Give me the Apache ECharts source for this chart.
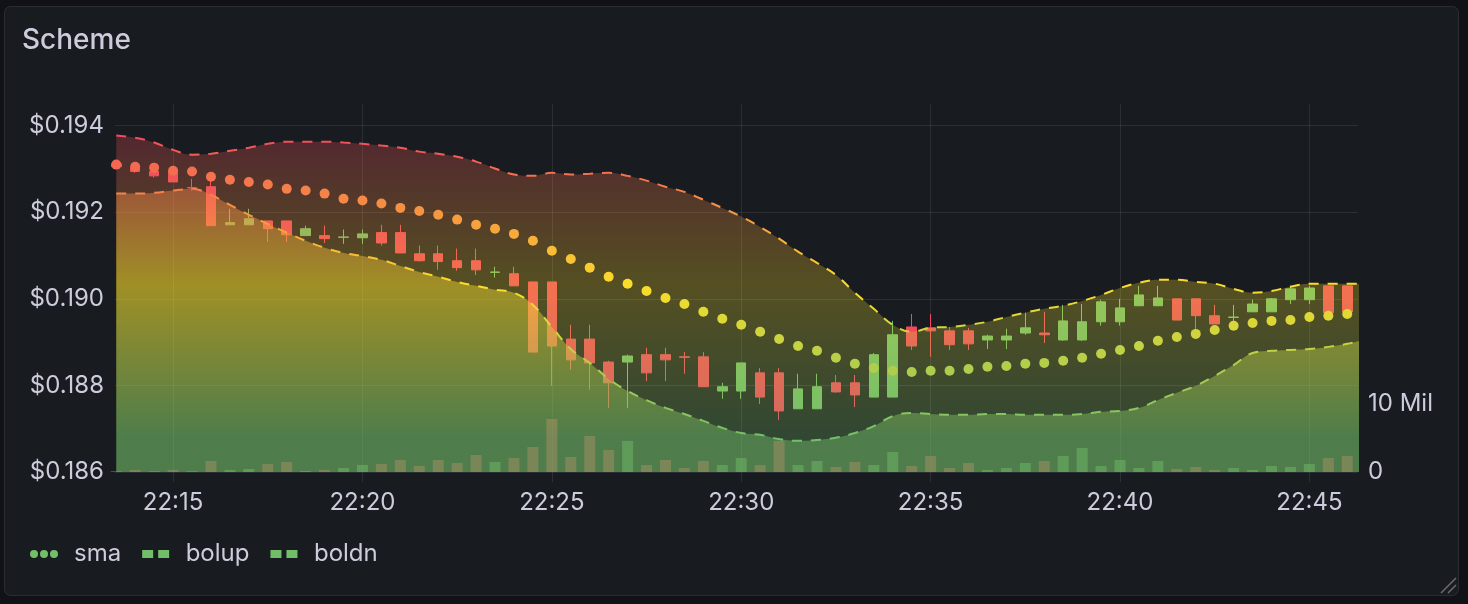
<!DOCTYPE html>
<html><head><meta charset="utf-8">
<script src="https://cdn.jsdelivr.net/npm/echarts@6/dist/echarts.min.js"></script>
<style>html,body{margin:0;padding:0;background:#111217;}#c{width:1468px;height:604px;}</style>
</head><body><div id="c"></div>
<script>
const times = ['22:13:30','22:14:00','22:14:30','22:15:00','22:15:30','22:16:00','22:16:30','22:17:00','22:17:30','22:18:00',
 '22:18:30','22:19:00','22:19:30','22:20:00','22:20:30','22:21:00','22:21:30','22:22:00','22:22:30','22:23:00',
 '22:23:30','22:24:00','22:24:30','22:25:00','22:25:30','22:26:00','22:26:30','22:27:00','22:27:30','22:28:00',
 '22:28:30','22:29:00','22:29:30','22:30:00','22:30:30','22:31:00','22:31:30','22:32:00','22:32:30','22:33:00',
 '22:33:30','22:34:00','22:34:30','22:35:00','22:35:30','22:36:00','22:36:30','22:37:00','22:37:30','22:38:00',
 '22:38:30','22:39:00','22:39:30','22:40:00','22:40:30','22:41:00','22:41:30','22:42:00','22:42:30','22:43:00',
 '22:43:30','22:44:00','22:44:30','22:45:00','22:45:30','22:46:00','22:46:30'];
const xRange = ['22:13:28','22:46:17'];
const xTickLabels = ['22:15','22:20','22:25','22:30','22:35','22:40','22:45'];
const yTicks = [0.186,0.188,0.190,0.192,0.194];
const yRange = [0.186,0.1945];
const volTicks = [0,10];
const volMax = 53.7;

const open = [0.19312,0.19303,0.19294,0.19294,0.19257,0.19259,0.19171,0.19171,0.19180,0.19180,
 0.19146,0.19146,0.19142,0.19141,0.19153,0.19153,0.19104,0.19104,0.19088,0.19088,
 0.19061,0.19058,0.19039,0.19039,0.18907,0.18907,0.18854,0.18854,0.18871,0.18871,
 0.18866,0.18866,0.18787,0.18787,0.18829,0.18829,0.18746,0.18746,0.18806,0.18806,
 0.18773,0.18773,0.18935,0.18933,0.18926,0.18926,0.18905,0.18905,0.18921,0.18921,
 0.18905,0.18905,0.18947,0.18947,0.18984,0.18984,0.19000,0.19000,0.18961,0.18957,
 0.18970,0.18970,0.18998,0.18998,0.19030,0.19030,null];
const close = [0.19305,0.19294,0.19284,0.19270,0.19256,0.19169,0.19176,0.19185,0.19162,0.19148,
 0.19162,0.19139,0.19143,0.19150,0.19129,0.19106,0.19088,0.19086,0.19072,0.19067,
 0.19062,0.19030,0.18877,0.18891,0.18859,0.18852,0.18806,0.18868,0.18829,0.18859,
 0.18865,0.18797,0.18797,0.18852,0.18773,0.18741,0.18792,0.18797,0.18785,0.18778,
 0.18871,0.18917,0.18891,0.18926,0.18894,0.18896,0.18914,0.18914,0.18933,0.18917,
 0.18949,0.18947,0.18993,0.18979,0.19009,0.19002,0.18951,0.18961,0.18942,0.18958,
 0.18988,0.19000,0.19023,0.19025,0.18968,0.18970,null];
const low = [0.19303,0.19291,0.19280,0.19270,0.19250,0.19169,0.19171,0.19171,0.19132,0.19132,
 0.19146,0.19129,0.19127,0.19127,0.19123,0.19106,0.19086,0.19067,0.19065,0.19055,
 0.19049,0.19030,0.18877,0.18799,0.18836,0.18790,0.18748,0.18748,0.18810,0.18810,
 0.18827,0.18797,0.18769,0.18769,0.18757,0.18720,0.18746,0.18746,0.18783,0.18750,
 0.18773,0.18773,0.18882,0.18866,0.18882,0.18882,0.18884,0.18884,0.18917,0.18898,
 0.18903,0.18903,0.18938,0.18938,0.18984,0.18984,0.18951,0.18928,0.18942,0.18947,
 0.18970,0.18970,0.18988,0.18988,0.18968,0.18970,null];
const high = [0.19317,0.19307,0.19303,0.19298,0.19277,0.19273,0.19208,0.19208,0.19180,0.19180,
 0.19169,0.19169,0.19160,0.19160,0.19171,0.19171,0.19123,0.19123,0.19116,0.19116,
 0.19074,0.19074,0.19039,0.19039,0.18940,0.18940,0.18857,0.18871,0.18887,0.18887,
 0.18877,0.18877,0.18806,0.18852,0.18840,0.18840,0.18827,0.18827,0.18824,0.18824,
 0.18875,0.18949,0.18965,0.18965,0.18935,0.18933,0.18917,0.18931,0.18968,0.18970,
 0.18986,0.18988,0.18998,0.19000,0.19030,0.19030,0.19000,0.19000,0.18986,0.18986,
 0.18998,0.19002,0.19030,0.19030,0.19030,0.19030,null];
const volume = [0.15,0.29,0.15,0.29,0.15,1.61,0.29,0.44,1.17,1.46,
 0.15,0.29,0.58,1.02,1.17,1.75,0.88,1.75,1.31,2.48,
 1.46,2.04,3.65,7.74,2.19,5.26,3.21,4.53,1.02,1.75,
 0.58,1.61,1.02,2.04,1.02,4.53,1.02,1.61,0.73,1.46,
 1.02,2.92,0.88,2.34,0.58,1.31,0.29,0.58,1.31,1.61,
 2.34,3.50,0.88,1.75,0.58,1.61,0.44,0.73,0.29,0.58,
 0.29,0.88,0.73,1.17,2.04,2.34,null];
const sma = [0.19310,0.19305,0.19303,0.19296,0.19294,0.19282,0.19275,0.19270,0.19264,0.19254,
 0.19250,0.19243,0.19231,0.19227,0.19220,0.19210,0.19203,0.19194,0.19183,0.19171,
 0.19162,0.19150,0.19134,0.19111,0.19092,0.19072,0.19051,0.19035,0.19018,0.19002,
 0.18988,0.18970,0.18954,0.18940,0.18924,0.18907,0.18891,0.18880,0.18864,0.18850,
 0.18840,0.18834,0.18831,0.18834,0.18834,0.18838,0.18843,0.18845,0.18850,0.18852,
 0.18857,0.18864,0.18873,0.18882,0.18891,0.18903,0.18912,0.18919,0.18928,0.18938,
 0.18944,0.18949,0.18951,0.18958,0.18961,0.18965,0.18968];
const bolup = [0.19377,0.19372,0.19361,0.19344,0.19333,0.19335,0.19342,0.19349,0.19358,0.19363,
 0.19363,0.19363,0.19361,0.19358,0.19354,0.19349,0.19340,0.19335,0.19328,0.19317,
 0.19301,0.19287,0.19284,0.19291,0.19287,0.19289,0.19291,0.19284,0.19273,0.19259,
 0.19247,0.19229,0.19210,0.19190,0.19166,0.19139,0.19109,0.19083,0.19055,0.19014,
 0.18977,0.18940,0.18924,0.18933,0.18935,0.18940,0.18947,0.18958,0.18968,0.18977,
 0.18984,0.18995,0.19009,0.19025,0.19037,0.19044,0.19044,0.19039,0.19035,0.19023,
 0.19014,0.19018,0.19028,0.19035,0.19035,0.19035,0.19035];
const boldn = [0.19243,0.19243,0.19245,0.19250,0.19254,0.19240,0.19217,0.19194,0.19173,0.19153,
 0.19134,0.19118,0.19106,0.19099,0.19090,0.19076,0.19062,0.19051,0.19039,0.19030,
 0.19021,0.19014,0.18986,0.18935,0.18884,0.18852,0.18815,0.18787,0.18766,0.18748,
 0.18734,0.18718,0.18702,0.18690,0.18686,0.18676,0.18672,0.18674,0.18679,0.18690,
 0.18706,0.18729,0.18736,0.18734,0.18732,0.18732,0.18734,0.18734,0.18732,0.18732,
 0.18732,0.18734,0.18739,0.18741,0.18748,0.18766,0.18783,0.18799,0.18822,0.18847,
 0.18875,0.18880,0.18882,0.18884,0.18889,0.18896,0.18907];

const GREEN = '#73BF69', YELLOW = '#FADE2A', RED = '#F2495C';
const TEXT = '#ccccdc', GRID = 'rgba(240,250,255,0.09)';
const FONT = 'Inter, "Noto Sans", sans-serif';

function ts(s) {
  const p = s.split(':').map(Number);
  return Date.UTC(2024, 0, 1, p[0], p[1], p[2] || 0);
}
const T = times.map(ts);
const candleData = [], volData = [];
T.forEach((t, i) => {
  if (open[i] == null) return;
  candleData.push([t, open[i], close[i], low[i], high[i]]);
  const up = close[i] >= open[i];
  volData.push({ value: [t, volume[i]], itemStyle: { color: up ? 'rgba(115,191,105,0.45)' : 'rgba(242,73,92,0.5)' } });
});
const pair = arr => T.map((t, i) => [t, arr[i]]);
const pad2 = n => (n < 10 ? '0' : '') + n;
const fmtTime = v => { const d = new Date(v); return pad2(d.getUTCHours()) + ':' + pad2(d.getUTCMinutes()); };
const xTickValues = xTickLabels.map(ts);

const dotsIcon = 'path://M4,0A4,4 0 1,1 4,8A4,4 0 1,1 4,0ZM14,0A4,4 0 1,1 14,8A4,4 0 1,1 14,0ZM24,0A4,4 0 1,1 24,8A4,4 0 1,1 24,0Z';
const dashIcon = 'path://M0,0H11V8H0ZM16,0H27V8H16Z';

const chart = echarts.init(document.getElementById('c'), null, { renderer: 'canvas' });
chart.setOption({
  backgroundColor: '#111217',
  animation: false,
  textStyle: { fontFamily: FONT },
  graphic: [
    { type: 'rect', z: -10, shape: { x: 4.5, y: 6.5, width: 1454, height: 589, r: 6 },
      style: { fill: '#181b1f', stroke: 'rgba(204,204,220,0.12)', lineWidth: 1 } },
    { type: 'text', z: 10, left: 22, top: 27,
      style: { text: 'Scheme', fill: TEXT, font: '500 28px ' + FONT } },
    { type: 'line', z: 10, shape: { x1: 1441, y1: 593, x2: 1456, y2: 578 }, style: { stroke: '#6e6f75', lineWidth: 1.5 } },
    { type: 'line', z: 10, shape: { x1: 1448, y1: 593, x2: 1456, y2: 585 }, style: { stroke: '#6e6f75', lineWidth: 1.5 } }
  ],
  grid: { left: 115, right: 110, top: 104, bottom: 132, containLabel: false },
  legend: {
    left: 30, top: 542, padding: 0, itemWidth: 28, itemHeight: 8, itemGap: 21,
    selectedMode: false,
    textStyle: { color: TEXT, fontSize: 24, fontFamily: FONT, padding: [0, 0, 0, 11] },
    itemStyle: { borderWidth: 0 },
    lineStyle: { width: 0 },
    data: [
      { name: 'sma', icon: dotsIcon, itemStyle: { color: GREEN, borderWidth: 0 } },
      { name: 'bolup', icon: dashIcon, itemStyle: { color: GREEN, borderWidth: 0 } },
      { name: 'boldn', icon: dashIcon, itemStyle: { color: GREEN, borderWidth: 0 } }
    ]
  },
  visualMap: {
    type: 'continuous', show: false, seriesIndex: [2, 3, 4], dimension: 1,
    min: 0.1833, max: 0.1973,
    inRange: { color: [GREEN, GREEN, YELLOW, RED, RED] }
  },
  xAxis: {
    type: 'value', min: ts(xRange[0]), max: ts(xRange[1]),
    axisLine: { show: false },
    axisTick: { show: true, length: 10, lineStyle: { color: GRID }, customValues: xTickValues },
    axisLabel: { color: TEXT, fontSize: 24, fontFamily: FONT, margin: 19, formatter: fmtTime,
      customValues: xTickValues },
    splitLine: { show: true, lineStyle: { color: GRID, width: 1 } }
  },
  yAxis: [
    { type: 'value', min: yRange[0], max: yRange[1], interval: 0.002,
      axisLine: { show: false }, axisTick: { show: false, customValues: yTicks },
      axisLabel: { color: TEXT, fontSize: 24, fontFamily: FONT, margin: 11, customValues: yTicks,
        formatter: v => '$' + v.toFixed(3) },
      splitLine: { show: true, lineStyle: { color: GRID, width: 1 } } },
    { type: 'value', min: 0, max: volMax, interval: 10, position: 'right',
      axisLine: { show: false }, axisTick: { show: false },
      axisLabel: { color: TEXT, fontSize: 24, fontFamily: FONT, margin: 10, customValues: volTicks,
        formatter: v => v === 0 ? '0' : (v === 10 ? '10 Mil' : '') },
      splitLine: { show: false } }
  ],
  series: [
    { type: 'bar', name: 'volume', yAxisIndex: 1, z: 1, barWidth: 11, data: volData },
    { type: 'candlestick', name: 'candles', z: 2, barWidth: 10, encode: { x: 0, y: [1, 2, 3, 4] },
      itemStyle: { color: GREEN, color0: RED, borderColor: GREEN, borderColor0: RED, borderWidth: 1 },
      data: candleData },
    { type: 'line', name: 'bolup', z: 3, smooth: 0.4, showSymbol: false, symbol: 'none', data: pair(bolup),
      lineStyle: { width: 2, type: [10, 9] }, areaStyle: { opacity: 0.27, origin: 'start' } },
    { type: 'line', name: 'boldn', z: 4, smooth: 0.4, showSymbol: false, symbol: 'none', data: pair(boldn),
      lineStyle: { width: 2, type: [10, 9] }, areaStyle: { opacity: 0.45, origin: 'start' } },
    { type: 'scatter', name: 'sma', z: 5, symbol: 'circle', symbolSize: 10, data: pair(sma),
      itemStyle: { opacity: 1 } }
  ]
});
</script></body></html>
